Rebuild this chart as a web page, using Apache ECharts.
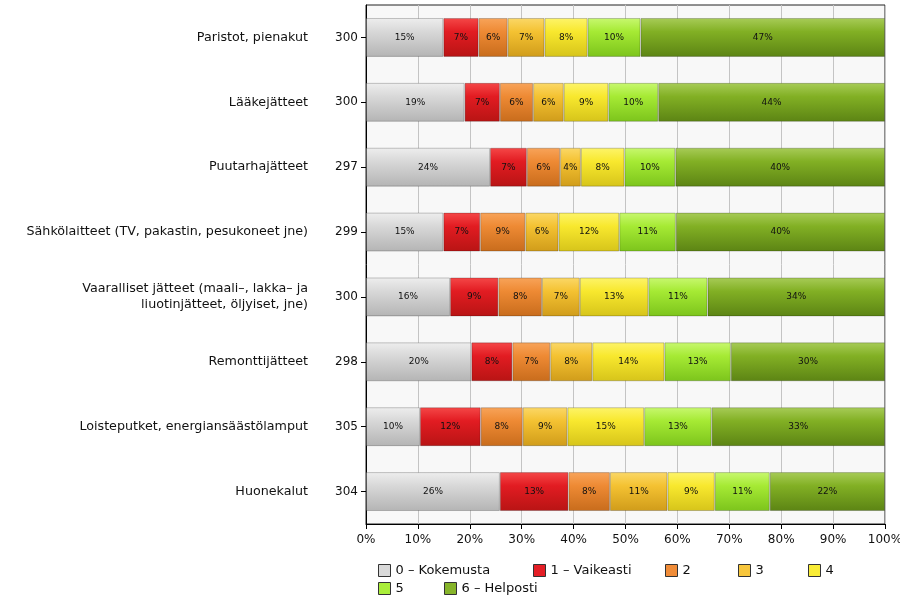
<!DOCTYPE html>
<html>
<head>
<meta charset="utf-8">
<script src="https://cdn.jsdelivr.net/npm/echarts@6/dist/echarts.min.js"></script>
<style>html,body{margin:0;padding:0;background:#fff}#c{width:900px;height:600px}</style>
</head>
<body>
<div id="c"></div>
<script>
const categories = ['Paristot, pienakut','Lääkejätteet','Puutarhajätteet','Sähkölaitteet (TV, pakastin, pesukoneet jne)','Vaaralliset jätteet (maali–, lakka– ja\nliuotinjätteet, öljyiset, jne)','Remonttijätteet','Loisteputket, energiansäästölamput','Huonekalut'];
const counts = ['300','300','297','299','300','298','305','304'];
const seriesNames = ['0 – Kokemusta','1 – Vaikeasti','2','3','4','5','6 – Helposti'];
const s0 = [14.9,19.0,23.9,14.9,16.2,20.3,10.4,25.8];
const s1 = [6.8,6.8,7.1,7.1,9.3,7.9,11.7,13.2];
const s2 = [5.6,6.4,6.4,8.7,8.4,7.3,8.1,8.0];
const s3 = [7.1,5.9,4.0,6.4,7.3,8.1,8.6,11.1];
const s4 = [8.3,8.6,8.4,11.7,13.2,13.9,14.8,9.1];
const s5 = [10.2,9.6,9.8,10.9,11.4,12.8,13.0,10.6];
const s6 = [47.1,43.7,40.4,40.3,34.2,29.7,33.4,22.2];
const xTicks = [0,10,20,30,40,50,60,70,80,90,100];

const values = [s0,s1,s2,s3,s4,s5,s6];
const baseColors = ['#d9d9d9','#e41e26','#f08c38','#f7c63c','#f9ec36','#aaee3a','#86b42a'];
const grads = [
  ['#eeeeee','#d8d8d8','#b4b4b4'],
  ['#f54848','#e21c22','#b81414'],
  ['#f8a45a','#ee8a34','#c86c1c'],
  ['#fbd868','#f4c232','#d09c1a'],
  ['#fdf46a','#f8e82e','#d6c41a'],
  ['#c8f870','#a6ea34','#7cc41c'],
  ['#a8cc58','#82b024','#5c8414']
];
const FONT = 'DejaVu Sans';

const chart = echarts.init(document.getElementById('c'), null, {renderer:'canvas'});
const series = values.map((arr, i) => ({
  name: seriesNames[i],
  type: 'bar',
  stack: 'all',
  barWidth: '60%',
  yAxisIndex: 0,
  data: arr,
  itemStyle: {
    color: {type:'linear', x:0, y:0, x2:0, y2:1, colorStops:[
      {offset:0, color: grads[i][0]},
      {offset:0.35, color: grads[i][1]},
      {offset:1, color: grads[i][2]}
    ]},
    borderColor: 'rgba(0,0,0,0.22)',
    borderWidth: 1
  },
  label: {
    show: true,
    position: 'inside',
    fontFamily: FONT,
    fontSize: 9,
    color: '#111',
    formatter: p => Math.round(p.value) + '%'
  },
  emphasis: {disabled: true}
}));

const legendPos = [[378,564],[533,564],[665,564],[738,564],[808,564],[378,582],[444,582]];
const legends = seriesNames.map((nm, i) => ({
  left: legendPos[i][0], top: legendPos[i][1], padding: 0,
  data: [{name: nm, icon: 'rect', itemStyle: {color: baseColors[i], borderColor: '#333', borderWidth: 1}}],
  itemWidth: 12, itemHeight: 12, itemGap: 6,
  textStyle: {fontFamily: FONT, fontSize: 13, color: '#111'},
  selectedMode: false
}));

chart.setOption({
  animation: false,
  backgroundColor: '#fff',
  legend: legends,
  grid: {left: 366, right: 15, top: 5, bottom: 76, outerBoundsMode: 'none', containLabel: false, show: true, backgroundColor: '#f8f8f8', borderColor: '#222', borderWidth: 1},
  xAxis: {
    type: 'value', min: 0, max: 100, interval: 10,
    axisLine: {show: true, lineStyle: {color: '#000'}},
    axisTick: {show: true, length: 5, lineStyle: {color: '#000'}},
    splitLine: {show: true, lineStyle: {color: '#c4c4c4', width: 1}},
    axisLabel: {fontFamily: FONT, fontSize: 12, color: '#111', margin: 10,
      formatter: v => xTicks.indexOf(v) >= 0 ? v + '%' : ''}
  },
  yAxis: [
    {
      type: 'category', data: counts.map((c,i)=>c+'_'+i), inverse: true, position: 'left',
      axisLine: {show: true, lineStyle: {color: '#000'}},
      axisTick: {show: true, alignWithLabel: true, length: 5, lineStyle: {color: '#000'}},
      splitLine: {show: false},
      axisLabel: {fontFamily: FONT, fontSize: 12, color: '#111', margin: 8, formatter: v => v.split('_')[0]}
    },
    {
      type: 'category', data: categories, inverse: true, position: 'left', offset: 50,
      axisLine: {show: false}, axisTick: {show: false}, splitLine: {show: false},
      axisLabel: {fontFamily: FONT, fontSize: 12.7, color: '#111', margin: 8, align: 'right', lineHeight: 16}
    }
  ],
  series: series
});
</script>
</body>
</html>
